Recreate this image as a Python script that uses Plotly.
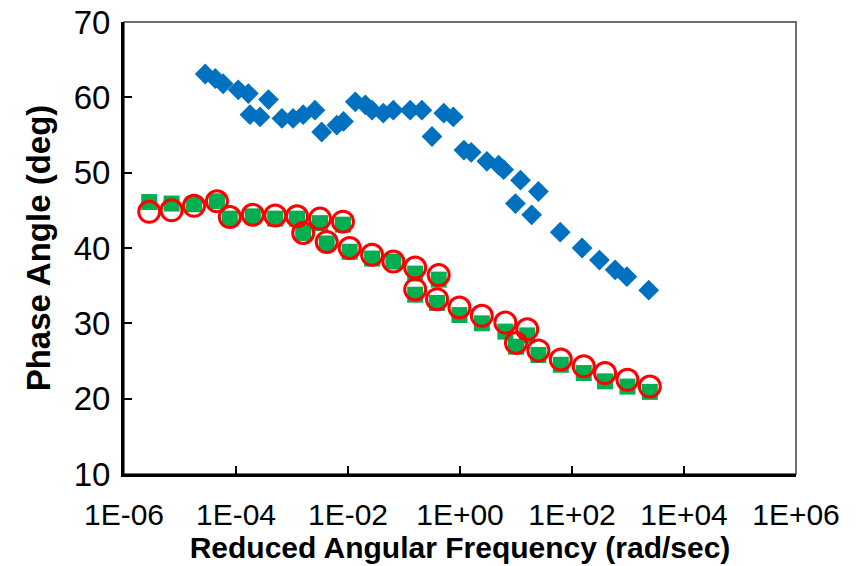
import plotly.graph_objects as go

# Reduced angular frequency (rad/s) and phase angle (deg) for each dataset
blue_freq = [10**v for v in [-4.55, -4.37, -4.23, -3.96, -3.78, -3.42, -3.75, -3.57, -3.18, -2.98,
                             -2.80, -2.59, -2.47, -2.20, -2.08, -1.87, -1.69, -1.57, -1.37, -1.19,
                             -0.89, -0.68, -0.50, -0.29, -0.12, 0.07, 0.20, 0.48, 0.69, 0.78,
                             1.08, 1.40, 0.99, 1.28, 1.79, 2.18, 2.49, 2.77, 2.98, 3.37]]
blue_phase = [63.1, 62.5, 61.8, 61.0, 60.5, 59.7, 57.7, 57.4, 57.2, 57.2,
              57.7, 58.3, 55.4, 56.3, 56.8, 59.4, 59.0, 58.3, 57.9, 58.3,
              58.3, 58.3, 54.8, 57.9, 57.4, 53.0, 52.7, 51.5, 51.0, 50.4,
              49.0, 47.5, 45.9, 44.4, 42.1, 40.0, 38.4, 37.1, 36.2, 34.4]

green_freq = [10**v for v in [-5.55, -5.15, -4.75, -4.34, -4.11, -3.70, -3.30, -2.91, -2.80, -2.50,
                              -2.38, -2.09, -1.97, -1.57, -1.19, -0.80, -0.38, -0.80, -0.41, -0.01,
                              0.39, 0.81, 1.20, 1.00, 1.40, 1.80, 2.21, 2.59, 2.99, 3.39]]
green_phase = [46.1, 45.9, 45.8, 46.2, 43.9, 44.2, 43.9, 43.9, 42.0, 43.3,
               40.6, 43.1, 39.5, 38.6, 38.2, 36.6, 35.8, 33.8, 32.7, 31.1,
               30.0, 28.9, 28.4, 26.9, 25.8, 24.5, 23.4, 22.3, 21.6, 20.9]

red_freq = green_freq
red_phase = [44.8, 45.0, 45.6, 46.2, 44.1, 44.4, 44.3, 44.2, 42.0, 43.9,
             40.8, 43.5, 40.0, 39.1, 38.2, 37.4, 36.4, 34.5, 33.2, 32.1,
             31.0, 30.1, 29.2, 27.4, 26.4, 25.2, 24.3, 23.4, 22.5, 21.6]

x_tick_vals = [1e-6, 1e-4, 1e-2, 1e0, 1e2, 1e4, 1e6]
x_tick_text = ["1E-06", "1E-04", "1E-02", "1E+00", "1E+02", "1E+04", "1E+06"]
y_tick_vals = [10, 20, 30, 40, 50, 60, 70]

fig = go.Figure()
fig.add_trace(go.Scatter(
    x=blue_freq, y=blue_phase, mode="markers",
    marker=dict(symbol="diamond", size=16, color="#0070C0", line=dict(width=0)),
    showlegend=False))
fig.add_trace(go.Scatter(
    x=green_freq, y=green_phase, mode="markers",
    marker=dict(symbol="square", size=16, color="#00B050", line=dict(width=0)),
    showlegend=False))
fig.add_trace(go.Scatter(
    x=red_freq, y=red_phase, mode="markers",
    marker=dict(symbol="circle-open", size=21, color="#FF0000", line=dict(width=3, color="#FF0000")),
    showlegend=False))

font_family = "Liberation Sans, Arial, sans-serif"
narrow_family = "Liberation Sans Narrow, Liberation Sans, Arial, sans-serif"

fig.update_layout(
    width=860, height=566,
    margin=dict(l=124, r=64, t=22, b=92),
    paper_bgcolor="white", plot_bgcolor="white",
    font=dict(family=font_family, color="black", size=28),
    xaxis=dict(
        type="log", range=[-6, 6], automargin=False,
        tickvals=x_tick_vals, ticktext=x_tick_text,
        ticks="inside", ticklen=8, tickwidth=2, tickcolor="black",
        showline=True, linecolor="black", linewidth=3,
        showgrid=False, zeroline=False,
        tickfont=dict(size=30, family=narrow_family),
        ticklabelstandoff=12,
        title=dict(text="<b>Reduced Angular Frequency (rad/sec)</b>",
                   font=dict(size=30, family=font_family), standoff=4),
    ),
    yaxis=dict(
        range=[10, 70], automargin=False,
        tickvals=y_tick_vals,
        ticks="inside", ticklen=8, tickwidth=2, tickcolor="black",
        showline=True, linecolor="black", linewidth=3,
        showgrid=False, zeroline=False,
        tickfont=dict(size=33, family=font_family),
        ticklabelstandoff=4,
        title=dict(text="<b>Phase Angle (deg)</b>",
                   font=dict(size=33, family=font_family), standoff=14),
    ),
)

# Thin frame around the plotting area
fig.add_shape(type="rect", xref="paper", yref="paper", x0=0, y0=0, x1=1, y1=1,
              line=dict(color="#404040", width=1.5), layer="below")

fig.write_html("out.html")
